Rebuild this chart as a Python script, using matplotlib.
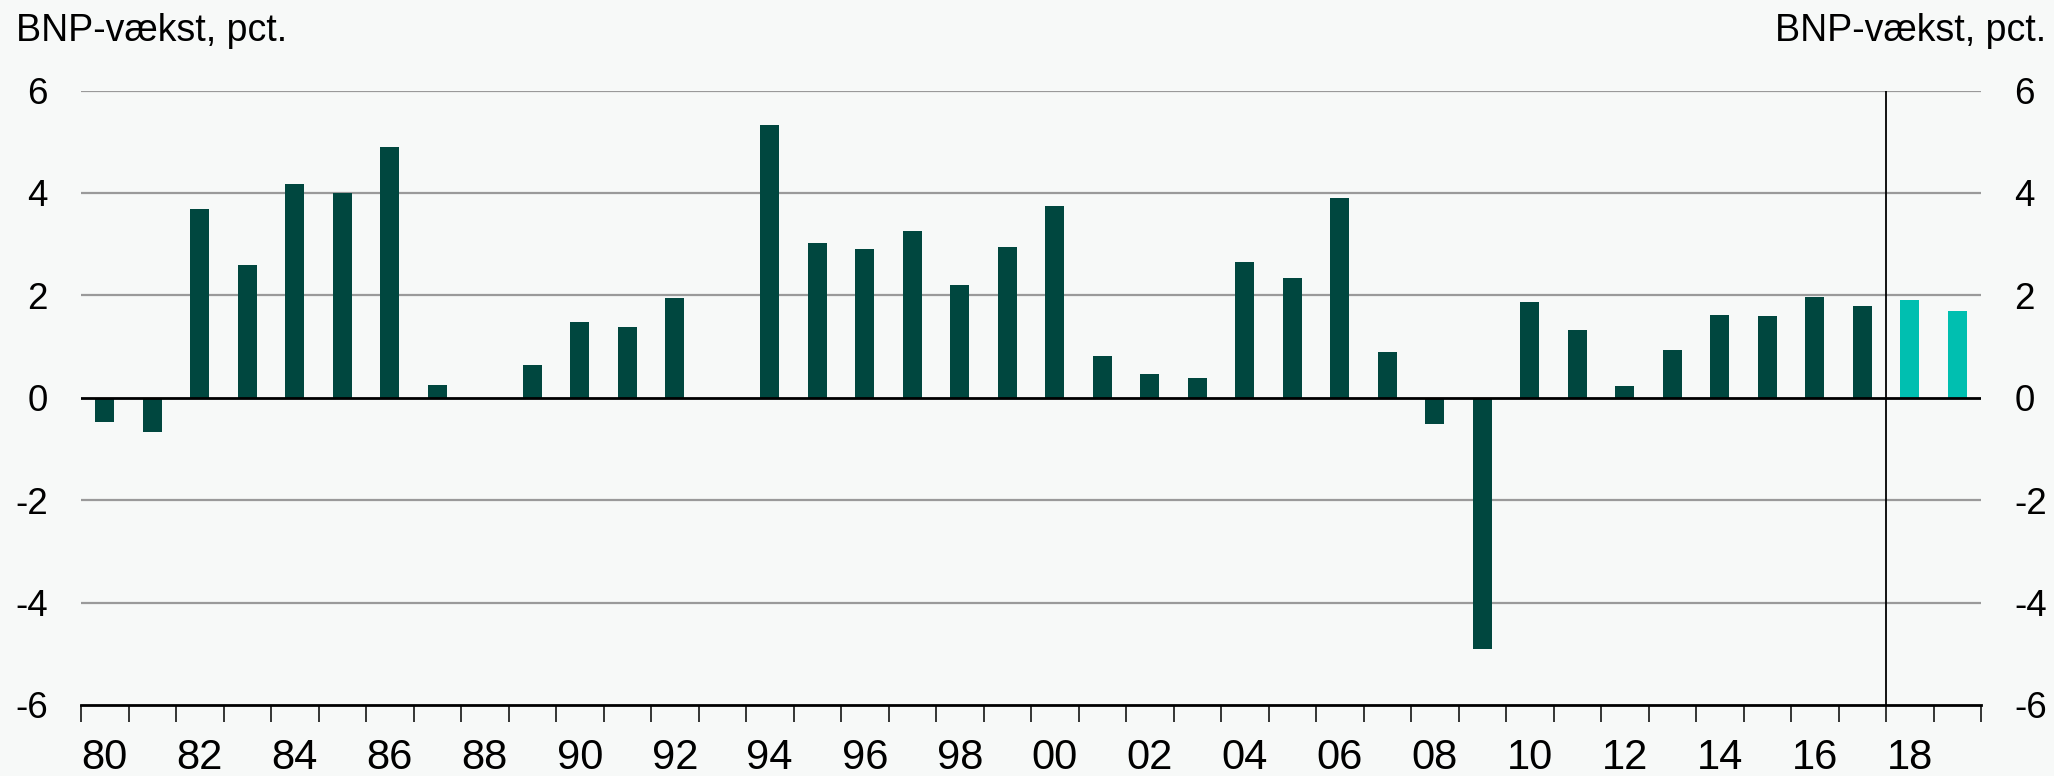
import matplotlib
matplotlib.use("Agg")
import matplotlib.pyplot as plt
import numpy as np

years = list(range(1980, 2020))
growth = [-0.48, -0.66, 3.68, 2.59, 4.17, 4.00, 4.90, 0.25, 0.00, 0.64,
          1.47, 1.39, 1.95, 0.00, 5.33, 3.03, 2.90, 3.26, 2.21, 2.94,
          3.74, 0.82, 0.46, 0.39, 2.66, 2.34, 3.91, 0.90, -0.51, -4.90,
          1.87, 1.33, 0.23, 0.93, 1.62, 1.60, 1.97, 1.80, 1.91, 1.69]
forecast_from = 2018
y_ticks = [-6, -4, -2, 0, 2, 4, 6]
unit_label = "BNP-vækst, pct."

dark = "#00473F"
teal = "#00BFB0"
bg = "#F7F9F8"

plt.rcParams['font.family'] = ['Liberation Sans', 'DejaVu Sans']

fig = plt.figure(figsize=(20.54, 7.76), dpi=100, facecolor=bg)
ax = fig.add_axes([81/2054, 1-705/776, 1900/2054, (705-90.5)/776])
ax.set_facecolor(bg)

x = np.arange(len(years))
colors = [teal if y >= forecast_from else dark for y in years]
ax.bar(x, growth, width=0.41, color=colors, zorder=3)

ax.set_xlim(-0.5, len(years) - 0.5)
ax.set_ylim(-6, 6)

for v in y_ticks:
    if v == 0:
        ax.axhline(0, color="black", lw=2.0, zorder=4)
    elif v != -6:
        ax.axhline(v, color="#9A9A9A", lw=1.6, zorder=1)

# forecast separator
sep = years.index(forecast_from) - 0.5
ax.axvline(sep, color="black", lw=1.3, zorder=4)

for s in ["top", "left", "right"]:
    ax.spines[s].set_visible(False)
ax.spines["bottom"].set_color("black")
ax.spines["bottom"].set_linewidth(2.0)

# x ticks
lab_idx = [i for i, y in enumerate(years) if y % 2 == 0]
ax.set_xticks(lab_idx)
ax.set_xticklabels([f"{years[i] % 100:02d}" for i in lab_idx], fontsize=30)
ax.set_xticks(np.arange(-0.5, len(years)), minor=True)
ax.tick_params(axis="x", which="major", length=0, pad=24)
ax.tick_params(axis="x", which="minor", length=12, width=1.1, color="black", direction="out")

ax.set_yticks(y_ticks)
ax.set_yticklabels([str(v) for v in y_ticks], fontsize=26.5)
ax.tick_params(axis="y", length=0, pad=24, labelleft=True, labelright=True)

fig.text(16/2054, 1-41/776, unit_label, fontsize=27, ha="left", va="baseline")
fig.text(2046/2054, 1-41/776, unit_label, fontsize=27, ha="right", va="baseline")

fig.savefig("out.png", dpi=100, facecolor=bg)
